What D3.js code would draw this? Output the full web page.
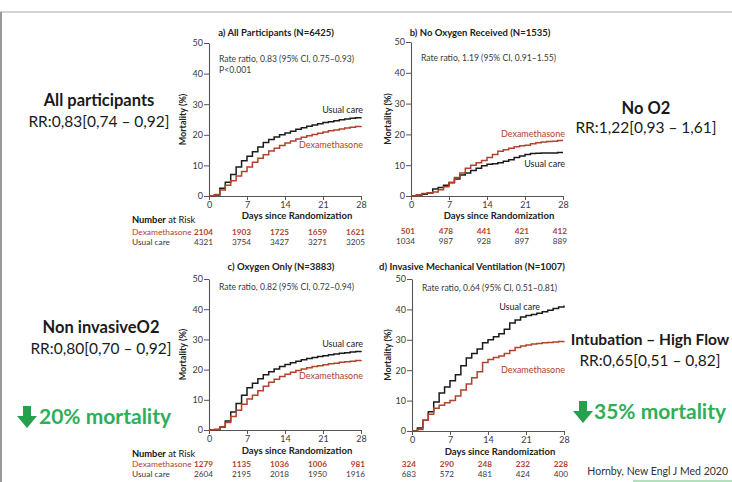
<!DOCTYPE html>
<html><head><meta charset="utf-8">
<script src="https://cdn.jsdelivr.net/npm/d3@7"></script>
<style>
html,body{margin:0;padding:0;background:#fff;}
svg{display:block;}
text{font-family:Lato,"Open Sans",sans-serif;}
</style></head>
<body><svg id="c" width="732" height="482"></svg>
<script>
// ---------- data ----------
const days = [0,1,2,3,4,5,6,7,8,9,10,11,12,13,14,15,16,17,18,19,20,21,22,23,24,25,26,27,28];
const xTicks = [0,7,14,21,28];
const yTicks = [0,10,20,30,40,50];
const seriesNames = ["Dexamethasone","Usual care"];

const titles = ["a) All Participants (N=6425)","b) No Oxygen Received (N=1535)","c) Oxygen Only (N=3883)","d) Invasive Mechanical Ventilation (N=1007)"];
const rateTexts = [["Rate ratio, 0.83 (95% CI, 0.75\u20130.93)","P<0.001"],["Rate ratio, 1.19 (95% CI, 0.91\u20131.55)"],["Rate ratio, 0.82 (95% CI, 0.72\u20130.94)"],["Rate ratio, 0.64 (95% CI, 0.51\u20130.81)"]];

const dexA = [0,0.5,2,3.5,5,6.5,8,9.5,11,12.3,13.5,14.7,15.6,16.5,17.3,18,18.6,19.2,19.7,20.1,20.5,20.9,21.3,21.6,21.9,22.2,22.5,22.7,22.9];
const ucA  = [0,0.3,2.5,4.5,7,9.5,11.5,13,14.5,16,17.5,18.5,19.3,20,20.6,21.2,21.8,22.3,22.8,23.2,23.6,24,24.3,24.6,24.9,25.2,25.4,25.6,25.7];
const dexB = [0,0.3,0.8,1,1.3,2,3,4.5,6,7.5,9,10,10.8,11.5,12.5,13.5,14.5,15,15.5,16,16.3,16.5,17,17.3,17.5,17.7,17.8,18,18];
const ucB  = [0,0.3,0.6,1,2.3,2.8,3.5,4.3,5.5,6.8,7.5,8.3,9,9.8,10.3,10.5,10.8,11.3,11.8,12.5,13,13.5,13.8,13.9,14,14,14,14.1,14.1];
const dexC = [0,0.2,1,2.5,4.5,6.5,8.5,10.3,11.5,13,14.5,15.8,16.8,17.7,18.5,19.1,19.7,20.2,20.6,21,21.3,21.6,21.9,22.1,22.4,22.6,22.8,23,23.2];
const ucC  = [0,0.2,1,3,6,8.8,11.5,14,15.5,17,18.3,19.3,20.2,21,21.7,22.3,22.8,23.3,23.7,24,24.3,24.6,24.9,25.2,25.4,25.6,25.8,26,26.2];
const dexD = [0,0.5,3.5,5.5,7.5,8.5,9.3,10,11.5,13.5,15.5,17.5,19.5,22.5,23.5,24.2,24.7,25.5,26.5,27.5,28,28.3,28.6,28.8,29,29.1,29.3,29.4,29.5];
const ucD  = [0,1,3.5,6.3,9.5,12.5,14.5,16.5,18.5,21.5,24,25.5,27,29,30,31,32,33.5,35.5,36.5,37.5,38,38.3,38.7,39.2,39.7,40.3,40.8,41.3];

const riskDexA = [2104,1903,1725,1659,1621];
const riskUcA  = [4321,3754,3427,3271,3205];
const riskDexB = [501,478,441,421,412];
const riskUcB  = [1034,987,928,897,889];
const riskDexC = [1279,1135,1036,1006,981];
const riskUcC  = [2604,2195,2018,1950,1916];
const riskDexD = [324,290,248,232,228];
const riskUcD  = [683,572,481,424,400];

const sideTitles = ["All participants","No O2","Non invasiveO2","Intubation \u2013 High Flow"];
const sideRR = ["RR:0,83[0,74 \u2013 0,92]","RR:1,22[0,93 \u2013 1,61]","RR:0,80[0,70 \u2013 0,92]","RR:0,65[0,51 \u2013 0,82]"];
const mortalityTexts = ["20% mortality","35% mortality"];
const sourceText = "Hornby, New Engl J Med 2020";

// ---------- layout ----------
const RED = "#b0432b", BLACK = "#1b1b1b", AX = "#555", TXT = "#3a3a3a", GREEN = "#2fae5a";
const svg = d3.select("#c");

// frame
svg.append("line").attr("x1",0).attr("x2",732).attr("y1",12).attr("y2",12).attr("stroke","#c4c4c4").attr("stroke-width",1.5);
svg.append("line").attr("x1",1).attr("x2",1).attr("y1",12).attr("y2",482).attr("stroke","#9a9a9a").attr("stroke-width",2);

const panels = [
  {x0:209,x1:361,y0:196,y1:43, dex:dexA, uc:ucA, rd:riskDexA, ru:riskUcA, title:titles[0], rate:rateTexts[0],
   titleX:276, titleY:36, ylabX:183, rateY:62, xlabY:219,
   ucLab:[363,113,"end"], dxLab:[363,148,"end"], riskRows:[223,235,245], riskLabels:true},
  {x0:411,x1:563,y0:196,y1:42, dex:dexB, uc:ucB, rd:riskDexB, ru:riskUcB, title:titles[1], rate:rateTexts[1],
   titleX:480, titleY:36, ylabX:388, rateY:61, xlabY:219,
   ucLab:[565,167,"end"], dxLab:[565,137,"end"], riskRows:[223,234,244], riskLabels:false},
  {x0:209,x1:361,y0:430,y1:279, dex:dexC, uc:ucC, rd:riskDexC, ru:riskUcC, title:titles[2], rate:rateTexts[2],
   titleX:281, titleY:270, ylabX:183, rateY:290, xlabY:454,
   ucLab:[363,347,"end"], dxLab:[363,379,"end"], riskRows:[457,467,477], riskLabels:true},
  {x0:412,x1:564,y0:431,y1:279, dex:dexD, uc:ucD, rd:riskDexD, ru:riskUcD, title:titles[3], rate:rateTexts[3],
   titleX:472, titleY:270, ylabX:388, rateY:291, xlabY:455,
   ucLab:[540,310,"end"], dxLab:[565,373,"end"], riskRows:[457,467,477], riskLabels:false}
];

panels.forEach(p => {
  const x = d3.scaleLinear().domain([0,28]).range([p.x0,p.x1]);
  const y = d3.scaleLinear().domain([0,50]).range([p.y0,p.y1]);
  const g = svg.append("g");

  const xa = g.append("g").attr("transform",`translate(0,${p.y0})`)
    .call(d3.axisBottom(x).tickValues(xTicks).tickSize(4).tickPadding(2).tickSizeOuter(0));
  const ya = g.append("g").attr("transform",`translate(${p.x0},0)`)
    .call(d3.axisLeft(y).tickValues(yTicks).tickSize(5).tickPadding(1).tickSizeOuter(0));
  [xa,ya].forEach(a => {
    a.select(".domain").attr("stroke",AX).attr("stroke-width",1.1);
    a.selectAll(".tick line").attr("stroke",AX);
    a.selectAll(".tick text").attr("fill",TXT).style("font-size","9px").style("font-family","Lato,sans-serif");
  });
  ya.selectAll(".tick text").attr("dy","0.32em");

  const line = d3.line().x((d,i)=>x(days[i])).y(d=>y(d)).curve(d3.curveStepAfter);
  g.append("path").datum(p.uc).attr("d",line).attr("fill","none").attr("stroke",BLACK).attr("stroke-width",1.5);
  g.append("path").datum(p.dex).attr("d",line).attr("fill","none").attr("stroke",RED).attr("stroke-width",1.5);

  // title
  g.append("text").attr("x",p.titleX).attr("y",p.titleY).attr("text-anchor","middle")
    .style("font-size","9.5px").style("font-weight","bold").attr("fill","#222").text(p.title);
  // rate text
  p.rate.forEach((t,i)=>{
    g.append("text").attr("x",p.x0+10).attr("y",p.rateY+i*11).style("font-size","8.6px").attr("fill",TXT).text(t);
  });
  // y label
  g.append("text").attr("transform",`translate(${p.ylabX},${(p.y0+p.y1)/2}) rotate(-90)`)
    .attr("text-anchor","middle").attr("dy","0.35em").style("font-size","9px").style("font-weight","bold").attr("fill","#222").text("Mortality (%)");
  // x label
  g.append("text").attr("x",(p.x0+p.x1)/2+12).attr("y",p.xlabY).attr("text-anchor","middle")
    .style("font-size","9.5px").style("font-weight","bold").attr("fill","#222").text("Days since Randomization");
  // series labels
  g.append("text").attr("x",p.ucLab[0]).attr("y",p.ucLab[1]).attr("text-anchor",p.ucLab[2]).style("font-size","9px").attr("fill",BLACK).text(seriesNames[1]);
  g.append("text").attr("x",p.dxLab[0]).attr("y",p.dxLab[1]).attr("text-anchor",p.dxLab[2]).style("font-size","9px").attr("fill",RED).text(seriesNames[0]);

  // number at risk
  if (p.riskLabels) {
    const t = g.append("text").attr("x",132).attr("y",p.riskRows[0]).style("font-size","9.3px").attr("fill","#111");
    t.append("tspan").style("font-weight","bold").text("Number");
    t.append("tspan").text(" at Risk");
    g.append("text").attr("x",132).attr("y",p.riskRows[1]).style("font-size","8.4px").attr("fill",RED).text(seriesNames[0]);
    g.append("text").attr("x",132).attr("y",p.riskRows[2]).style("font-size","8.4px").attr("fill",TXT).text(seriesNames[1]);
  }
  g.selectAll(".rd").data(p.rd).join("text").attr("class","rd")
    .attr("x",(d,i)=>x(xTicks[i])+4).attr("y",p.riskRows[1]).attr("text-anchor","end")
    .style("font-size","8.2px").style("font-weight","bold").attr("fill",RED).text(d=>d);
  g.selectAll(".ru").data(p.ru).join("text").attr("class","ru")
    .attr("x",(d,i)=>x(xTicks[i])+4).attr("y",p.riskRows[2]).attr("text-anchor","end")
    .style("font-size","8.2px").attr("fill",TXT).text(d=>d);
});

// side annotations
const side = [
  {cx:99, ty:106, ry:127, fs:16.5},
  {cx:646, ty:114, ry:133, fs:16.5},
  {cx:101, ty:333, ry:354, fs:16.5},
  {cx:650, ty:345, ry:366, fs:15.5}
];
side.forEach((s,i)=>{
  svg.append("text").attr("x",s.cx).attr("y",s.ty).attr("text-anchor","middle")
    .style("font-size",s.fs+"px").style("font-weight","bold").attr("fill","#1a1a1a").text(sideTitles[i]);
  svg.append("text").attr("x",s.cx).attr("y",s.ry).attr("text-anchor","middle")
    .style("font-size","15.5px").attr("fill","#1a1a1a").text(sideRR[i]);
});

// green mortality notes
const notes = [{ax:27, tx:39, y:424},{ax:583, tx:594, y:419}];
notes.forEach((n,i)=>{
  const top = n.y-18;
  const arrow = d3.path();
  arrow.moveTo(n.ax-4, top); arrow.lineTo(n.ax+4, top); arrow.lineTo(n.ax+4, top+10);
  arrow.lineTo(n.ax+10, top+10); arrow.lineTo(n.ax, top+22); arrow.lineTo(n.ax-10, top+10);
  arrow.lineTo(n.ax-4, top+10); arrow.closePath();
  svg.append("path").attr("d",arrow.toString()).attr("fill","#25a04c");
  svg.append("text").attr("x",n.tx).attr("y",n.y).style("font-size","21px").style("font-weight","bold").attr("fill",GREEN).text(mortalityTexts[i]);
});

// source
svg.append("text").attr("x",728).attr("y",475).attr("text-anchor","end").style("font-size","10.5px").attr("fill","#333").text(sourceText);
svg.append("line").attr("x1",633).attr("x2",732).attr("y1",481).attr("y2",481).attr("stroke","#9bd6a8").attr("stroke-width",1.5);
</script></body></html>
